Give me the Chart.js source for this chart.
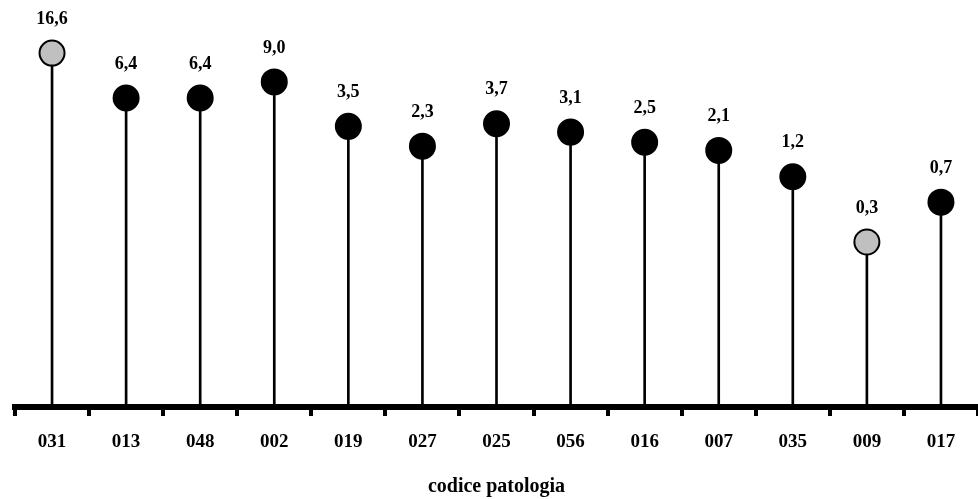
<!DOCTYPE html>
<html>
<head>
<meta charset="utf-8">
<script src="https://cdn.jsdelivr.net/npm/chart.js@4/dist/chart.umd.min.js"></script>
<style>
  html, body { margin: 0; padding: 0; background: #fff; }
  #wrap { width: 978px; height: 499px; position: relative; }
</style>
</head>
<body>
<div id="wrap"><canvas id="c" width="978" height="499"></canvas></div>
<script>
const categories = ['031', '013', '048', '002', '019', '027', '025', '056', '016', '007', '035', '009', '017'];
const values = [16.6, 6.4, 6.4, 9.0, 3.5, 2.3, 3.7, 3.1, 2.5, 2.1, 1.2, 0.3, 0.7];
const highlighted = [true, false, false, false, false, false, false, false, false, false, false, true, false];
const axisTitle = 'codice patologia';

const SERIF = '"Liberation Serif", "DejaVu Serif", serif';
const fmt = v => v.toFixed(1).replace('.', ',');

const valueLabels = {
  id: 'valueLabels',
  afterDatasetsDraw(chart) {
    const meta = chart.getDatasetMeta(1);
    const ctx = chart.ctx;
    ctx.save();
    ctx.font = 'bold 18px ' + SERIF;
    ctx.fillStyle = '#000';
    ctx.textAlign = 'center';
    ctx.textBaseline = 'middle';
    meta.data.forEach((pt, i) => {
      ctx.fillText(fmt(values[i]), pt.x, pt.y - 34);
    });
    ctx.restore();
  }
};

new Chart(document.getElementById('c'), {
  type: 'bar',
  data: {
    labels: categories,
    datasets: [
      {
        type: 'bar',
        data: values,
        backgroundColor: '#000',
        borderWidth: 0,
        barThickness: 2,
        order: 2
      },
      {
        type: 'line',
        data: values,
        showLine: false,
        pointRadius: 12.5,
        pointHoverRadius: 12.5,
        pointBorderWidth: 2,
        pointBorderColor: '#000',
        pointBackgroundColor: highlighted.map(h => h ? '#c0c0c0' : '#000'),
        clip: false,
        order: 1
      }
    ]
  },
  plugins: [valueLabels],
  options: {
    responsive: false,
    animation: false,
    events: [],
    layout: { autoPadding: false, padding: { left: 15, right: 0, top: 0, bottom: 0 } },
    plugins: { legend: { display: false }, tooltip: { enabled: false } },
    scales: {
      x: {
        offset: true,
        border: { display: true, color: '#000', width: 6 },
        grid: {
          display: true,
          drawOnChartArea: false,
          drawTicks: true,
          tickLength: 9,
          color: '#000',
          lineWidth: 4,
          offset: true
        },
        ticks: {
          color: '#000',
          padding: 15,
          font: { family: SERIF, size: 19, weight: 'bold' },
          maxRotation: 0
        },
        title: {
          display: true,
          text: axisTitle,
          color: '#000',
          font: { family: SERIF, size: 20, weight: 'bold' },
          padding: { top: 0, bottom: 0 }
        },
        afterFit(scale) { scale.height = 92; }
      },
      y: {
        type: 'logarithmic',
        display: false,
        min: 0.00901,
        max: 51.3
      }
    }
  }
});
</script>
</body>
</html>
